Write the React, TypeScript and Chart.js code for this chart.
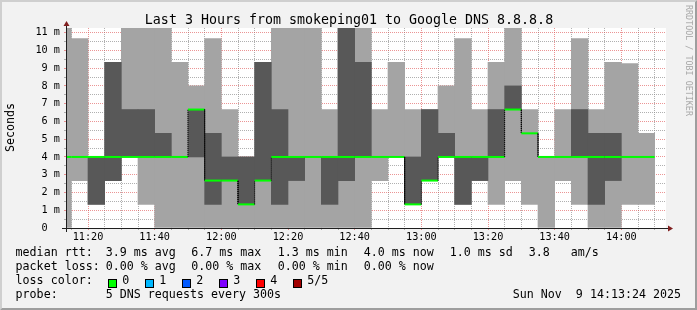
import React, { useEffect, useRef } from "react";
import { Chart, registerables } from "chart.js";

Chart.register(...registerables);

// ---------------- data ----------------
// 5-minute intervals (start times); each holds 5 sorted DNS pings (ms)
const intervalStart = [
  "11:10", "11:15", "11:20", "11:25", "11:30", "11:35", "11:40", "11:45", "11:50",
  "11:55", "12:00", "12:05", "12:10", "12:15", "12:20", "12:25", "12:30", "12:35",
  "12:40", "12:45", "12:50", "12:55", "13:00", "13:05", "13:10", "13:15", "13:20",
  "13:25", "13:30", "13:35", "13:40", "13:45", "13:50", "13:55", "14:00", "14:05",
];
const pingMin = [
  0, 2.67, 1.33, 2.67, 4, 1.33, 0, 0, 0,
  0, 0, 0, 0, 0, 0, 0, 0, 0,
  0, 2.67, 4, 1.33, 2.67, 4, 1.33, 2.67, 1.33,
  2.67, 1.33, 0, 2.67, 1.33, 0, 0, 1.33, 1.33,
];
const pingLow = [
  4, 4, 1.33, 2.67, 4, 4, 4, 4, 4,
  1.33, 2.67, 1.33, 2.67, 1.33, 2.67, 4, 1.33, 2.67,
  4, 4, 4, 1.33, 2.67, 4, 1.33, 2.67, 4,
  6.67, 5.33, 4, 4, 4, 1.33, 2.67, 4, 4,
];
const pingMedian = [
  4, 4, 4, 4, 4, 4, 4, 4, 6.67,
  2.67, 2.67, 1.33, 2.67, 4, 4, 4, 4, 4,
  4, 4, 4, 1.33, 2.67, 4, 4, 4, 4,
  6.67, 5.33, 4, 4, 4, 4, 4, 4, 4,
];
const pingHigh = [
  4, 4, 4, 9.33, 6.67, 6.67, 5.33, 4, 6.67,
  5.33, 4, 4, 9.33, 6.67, 4, 4, 4, 12,
  9.33, 4, 4, 4, 6.67, 5.33, 4, 4, 6.67,
  8, 5.33, 4, 4, 6.67, 5.33, 5.33, 4, 4,
];
const pingMax = [
  12, 10.67, 4, 9.33, 12, 12, 12, 9.33, 8,
  10.67, 6.67, 4, 9.33, 12, 12, 12, 6.67, 12,
  12, 6.67, 9.33, 6.67, 6.67, 8, 10.67, 6.67, 9.33,
  12, 6.67, 4, 6.67, 10.67, 6.67, 9.33, 9.25, 5.33,
];

const rangeStart = "11:13:24";
const rangeEnd = "14:13:24";
const stepMinutes = 5;
const xMajorLabels = ["11:20", "11:40", "12:00", "12:20", "12:40", "13:00", "13:20", "13:40", "14:00"];
const yTickLabels = ["0", "1 m", "2 m", "3 m", "4 m", "5 m", "6 m", "7 m", "8 m", "9 m", "10 m", "11 m"];
const yMinorStep = 0.5;
const yMax = 11.26;

const titleText = "Last 3 Hours from smokeping01 to Google DNS 8.8.8.8";
const yAxisTitle = "Seconds";
const watermarkText = "RRDTOOL / TOBI OETIKER";
const rttLabel = "median rtt:";
const rttStats = ["3.9 ms avg", "6.7 ms max", "1.3 ms min", "4.0 ms now", "1.0 ms sd", "3.8", "am/s"];
const lossLabel = "packet loss:";
const lossStats = ["0.00 % avg", "0.00 % max", "0.00 % min", "0.00 % now"];
const lossColorLabel = "loss color:";
const lossColorNames = ["0", "1", "2", "3", "4", "5/5"];
const lossColors = ["#00ff00", "#00b8ff", "#0059ff", "#7e00ff", "#ff0000", "#a10000"];
const probeLabel = "probe:";
const probeText = "5 DNS requests every 300s";
const timestampText = "Sun Nov  9 14:13:24 2025";

// ---------------- styles / layout ----------------
const FONT = '"DejaVu Sans Mono", monospace';
const W = 697;
const H = 310;
const PLOT = { left: 66, top: 28, right: 666, bottom: 228 };
const BG = "#f2f2f2";
const SMOKE_OUTER = "#a4a4a4";
const SMOKE_INNER = "#585858";
const GRID_MINOR = "rgba(143,143,143,0.7)";
const GRID_MAJOR = "rgba(222,79,79,0.6)";
const AXIS_COLOR = "#1f1f1f";
const ARROW_COLOR = "#801f1f";
const LEGEND_SIZE = 11.65;
const ROW_TOPS = [247.4, 261.4, 275.4, 289.2];
const LABEL_X = 15.6;
const STAT_X = [105.8, 191.2, 277.8, 363.8, 449.8, 528.8, 570.8];
const BOX_X = [108, 145, 182, 219, 256, 293];
const BOX_TEXT_X = [122.2, 159.2, 196.2, 233.2, 270.2, 307.2];

const toMin = (s: string) => {
  const p = s.split(":").map(Number);
  return p[0] * 60 + p[1] + (p[2] || 0) / 60;
};
const fmt = (m: number) => {
  const r = Math.round(m);
  const h = Math.floor(r / 60);
  const mm = r % 60;
  return `${h}:${mm < 10 ? "0" : ""}${mm}`;
};

const xMin = toMin(rangeStart);
const xMax = toMin(rangeEnd);
const starts = intervalStart.map(toMin);
const xGridValues: number[] = [];
for (let t = Math.ceil(xMin / stepMinutes) * stepMinutes; t <= xMax; t += stepMinutes) xGridValues.push(t);
const xMajorSet = new Set(xMajorLabels.map(toMin));
const yGridValues: number[] = [];
for (let v = 0; v <= yTickLabels.length - 1 + 1e-9; v += yMinorStep) yGridValues.push(Math.round(v * 10) / 10);

const outerBars = starts.map((t, i) => ({ x: t + stepMinutes / 2, y: [pingMin[i], pingMax[i]] }));
const innerBars = starts
  .map((t, i) => ({ x: t + stepMinutes / 2, y: [pingLow[i], pingHigh[i]] }))
  .filter((d) => d.y[1] > d.y[0]);
const medianPoints: { x: number; y: number }[] = [];
starts.forEach((t, i) => {
  medianPoints.push({ x: t, y: pingMedian[i] });
  medianPoints.push({ x: t + stepMinutes, y: pingMedian[i] });
});

const isVertical = (c: any) => c.p0.parsed.x === c.p1.parsed.x;

const framePlugin = {
  id: "rrdFrame",
  beforeDraw(chart: any) {
    const { ctx, chartArea: a } = chart;
    ctx.save();
    ctx.fillStyle = BG;
    ctx.fillRect(0, 0, W, H);
    // 3d border
    ctx.fillStyle = "#cfcfcf";
    ctx.beginPath();
    ctx.moveTo(0, H);
    ctx.lineTo(2, H - 2);
    ctx.lineTo(2, 2);
    ctx.lineTo(W - 2, 2);
    ctx.lineTo(W, 0);
    ctx.lineTo(0, 0);
    ctx.closePath();
    ctx.fill();
    ctx.fillStyle = "#9e9e9e";
    ctx.beginPath();
    ctx.moveTo(2, H - 2);
    ctx.lineTo(W - 2, H - 2);
    ctx.lineTo(W - 2, 2);
    ctx.lineTo(W, 0);
    ctx.lineTo(W, H);
    ctx.lineTo(0, H);
    ctx.closePath();
    ctx.fill();
    ctx.fillStyle = "#ffffff";
    ctx.fillRect(a.left, a.top, a.right - a.left, a.bottom - a.top);
    ctx.restore();
  },
  afterDraw(chart: any) {
    const { ctx, chartArea: a } = chart;
    ctx.save();
    ctx.strokeStyle = AXIS_COLOR;
    ctx.lineWidth = 1;
    ctx.beginPath();
    ctx.moveTo(a.left - 4, a.bottom + 0.5);
    ctx.lineTo(a.right + 4, a.bottom + 0.5);
    ctx.moveTo(a.left + 0.5, a.bottom + 4);
    ctx.lineTo(a.left + 0.5, a.top - 4);
    ctx.stroke();
    ctx.fillStyle = ARROW_COLOR;
    ctx.beginPath();
    ctx.moveTo(a.right + 2, a.bottom - 2.5);
    ctx.lineTo(a.right + 2, a.bottom + 3.5);
    ctx.lineTo(a.right + 7, a.bottom + 0.5);
    ctx.closePath();
    ctx.fill();
    ctx.beginPath();
    ctx.moveTo(a.left - 2.5, a.top - 2);
    ctx.lineTo(a.left + 3.5, a.top - 2);
    ctx.lineTo(a.left + 0.5, a.top - 7);
    ctx.closePath();
    ctx.fill();
    ctx.restore();
  },
};

const Txt = ({ x, y, size, children, style }: any) => (
  <div
    style={{
      position: "absolute",
      left: x,
      top: y,
      fontFamily: FONT,
      fontSize: size,
      lineHeight: 1,
      whiteSpace: "pre",
      color: "#000",
      ...style,
    }}
  >
    {children}
  </div>
);

export default function App() {
  const canvasRef = useRef<HTMLCanvasElement | null>(null);

  useEffect(() => {
    const canvas = canvasRef.current;
    if (!canvas) return;
    const chart = new Chart(canvas, {
      type: "bar",
      data: {
        datasets: [
          {
            type: "line",
            label: "median",
            data: medianPoints,
            order: 0,
            borderColor: lossColors[0],
            borderWidth: 2,
            pointRadius: 0,
            fill: false,
            tension: 0,
            segment: {
              borderColor: (c: any) => (isVertical(c) ? "#000000" : lossColors[0]),
              borderWidth: (c: any) => (isVertical(c) ? 1 : 2),
              borderDash: (c: any) => (isVertical(c) ? [1, 1] : []),
            },
          } as any,
          {
            type: "bar",
            label: "inner",
            data: innerBars as any,
            order: 1,
            backgroundColor: SMOKE_INNER,
            borderWidth: 0,
            grouped: false,
            barPercentage: 1,
            categoryPercentage: 1,
          } as any,
          {
            type: "bar",
            label: "outer",
            data: outerBars as any,
            order: 2,
            backgroundColor: SMOKE_OUTER,
            borderWidth: 0,
            grouped: false,
            barPercentage: 1,
            categoryPercentage: 1,
          } as any,
        ],
      },
      options: {
        animation: false,
        responsive: false,
        devicePixelRatio: 1,
        events: [],
        layout: { padding: { left: 0, top: PLOT.top, right: W - PLOT.right, bottom: 0 } },
        plugins: { legend: { display: false }, tooltip: { enabled: false }, title: { display: false } },
        scales: {
          x: {
            type: "linear",
            min: xMin,
            max: xMax,
            offset: false,
            z: 1,
            border: { display: false, dash: [1, 1] },
            grid: {
              offset: false,
              lineWidth: 1,
              color: (c: any) => (c.tick && xMajorSet.has(c.tick.value) ? GRID_MAJOR : GRID_MINOR),
              tickColor: (c: any) => (c.tick && xMajorSet.has(c.tick.value) ? GRID_MAJOR : GRID_MINOR),
              drawTicks: true,
              tickLength: 2,
            },
            ticks: {
              autoSkip: false,
              maxRotation: 0,
              minRotation: 0,
              padding: 1.5,
              color: "#000",
              font: { family: FONT, size: 10.2 },
              callback: (v: any) => (xMajorSet.has(Number(v)) ? fmt(Number(v)) : ""),
            },
            afterBuildTicks: (s: any) => {
              s.ticks = xGridValues.map((v) => ({ value: v }));
            },
            afterFit: (s: any) => {
              s.height = H - PLOT.bottom;
            },
          },
          y: {
            type: "linear",
            min: 0,
            max: yMax,
            z: 1,
            border: { display: false, dash: [1, 1] },
            grid: {
              lineWidth: 1,
              color: (c: any) => (c.tick && Number.isInteger(c.tick.value) ? GRID_MAJOR : GRID_MINOR),
              tickColor: (c: any) => (c.tick && Number.isInteger(c.tick.value) ? GRID_MAJOR : GRID_MINOR),
              drawTicks: true,
              tickLength: 2,
            },
            ticks: {
              autoSkip: false,
              padding: 4,
              color: "#000",
              font: { family: FONT, size: 10.2 },
              callback: (v: any) => {
                const n = Number(v);
                if (!Number.isInteger(n)) return "";
                const lbl = yTickLabels[n] || "";
                return n === 0 ? lbl + "  " : lbl;
              },
            },
            afterBuildTicks: (s: any) => {
              s.ticks = yGridValues.map((v) => ({ value: v }));
            },
            afterFit: (s: any) => {
              s.width = PLOT.left;
            },
          },
        },
      },
      plugins: [framePlugin],
    } as any);
    return () => chart.destroy();
  }, []);

  return (
    <div
      style={{
        position: "fixed",
        left: 0,
        top: 0,
        width: W,
        height: H,
        overflow: "hidden",
        background: BG,
      }}
    >
      <canvas ref={canvasRef} width={W} height={H} style={{ display: "block", width: W, height: H }} />
      <Txt x={0} y={12.6} size={13.3} style={{ width: W + 1, textAlign: "center" }}>
        {titleText}
      </Txt>
      <Txt x={5.1} y={152} size={LEGEND_SIZE} style={{ transformOrigin: "0 0", transform: "rotate(-90deg)" }}>
        {yAxisTitle}
      </Txt>
      <Txt
        x={692.8}
        y={4.5}
        size={8.4}
        style={{ transformOrigin: "0 0", transform: "rotate(90deg)", color: "#a8a8a8" }}
      >
        {watermarkText}
      </Txt>

      <Txt x={LABEL_X} y={ROW_TOPS[0]} size={LEGEND_SIZE}>{rttLabel}</Txt>
      {rttStats.map((s, i) => (
        <Txt key={"r" + i} x={STAT_X[i]} y={ROW_TOPS[0]} size={LEGEND_SIZE}>{s}</Txt>
      ))}
      <Txt x={LABEL_X} y={ROW_TOPS[1]} size={LEGEND_SIZE}>{lossLabel}</Txt>
      {lossStats.map((s, i) => (
        <Txt key={"l" + i} x={STAT_X[i]} y={ROW_TOPS[1]} size={LEGEND_SIZE}>{s}</Txt>
      ))}
      <Txt x={LABEL_X} y={ROW_TOPS[2]} size={LEGEND_SIZE}>{lossColorLabel}</Txt>
      {lossColorNames.map((s, i) => (
        <React.Fragment key={"c" + i}>
          <div
            style={{
              position: "absolute",
              left: BOX_X[i],
              top: 279,
              width: 9,
              height: 9,
              boxSizing: "border-box",
              border: "1px solid #000",
              background: lossColors[i],
            }}
          />
          <Txt x={BOX_TEXT_X[i]} y={ROW_TOPS[2]} size={LEGEND_SIZE}>{s}</Txt>
        </React.Fragment>
      ))}
      <Txt x={LABEL_X} y={ROW_TOPS[3]} size={LEGEND_SIZE}>{probeLabel}</Txt>
      <Txt x={STAT_X[0]} y={ROW_TOPS[3]} size={LEGEND_SIZE}>{probeText}</Txt>
      <Txt x={0} y={ROW_TOPS[3]} size={LEGEND_SIZE} style={{ width: 681, textAlign: "right" }}>
        {timestampText}
      </Txt>
    </div>
  );
}
